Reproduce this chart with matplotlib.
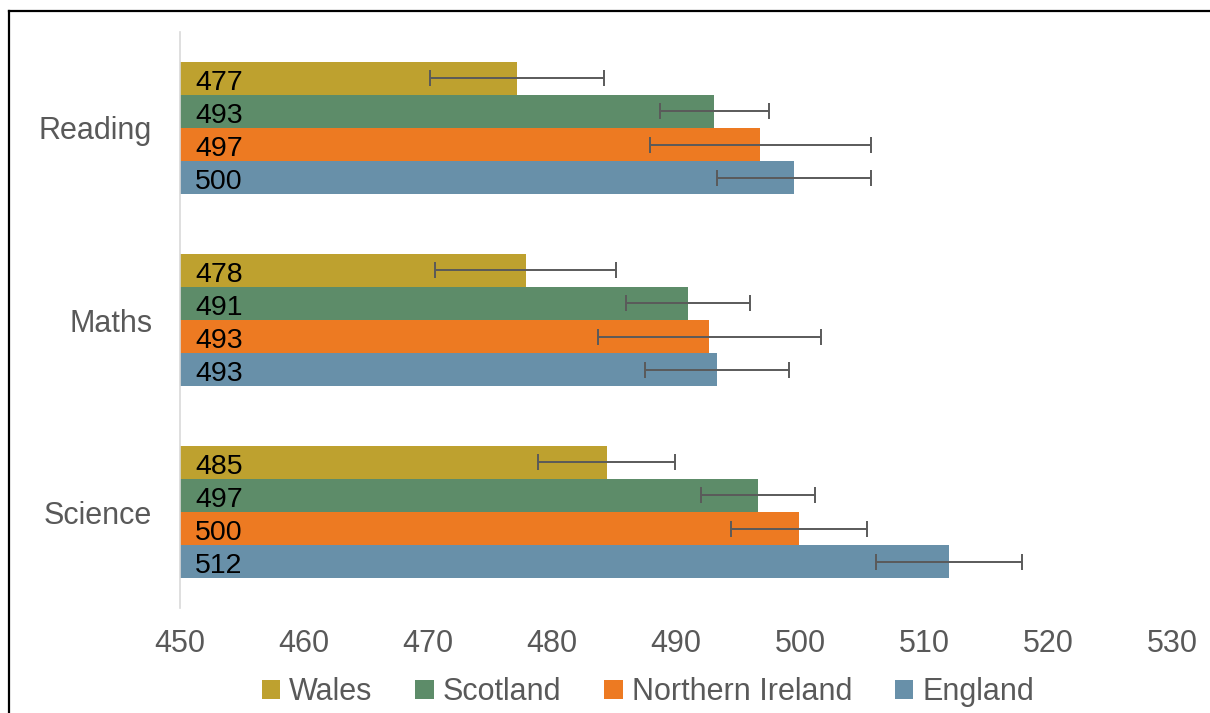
import numpy as np
import matplotlib
matplotlib.use("Agg")
import matplotlib.pyplot as plt
from matplotlib.lines import Line2D

# PISA mean scores (bar lengths) and 95% CI half-widths
subjects = ["Reading", "Maths", "Science"]
countries = ["Wales", "Scotland", "Northern Ireland", "England"]
colours = ["#BEA12F", "#5D8C69", "#ED7A22", "#6890A9"]

wales = [477.2, 477.9, 484.4]
scotland = [493.1, 491.0, 496.6]
n_ireland = [496.8, 492.7, 499.9]
england = [499.5, 493.3, 512.0]

wales_err = [7.0, 7.3, 5.5]
scotland_err = [4.4, 5.0, 4.6]
n_ireland_err = [8.9, 9.0, 5.5]
england_err = [6.2, 5.8, 5.9]

# labels as published
wales_lbl = [477, 478, 485]
scotland_lbl = [493, 491, 497]
n_ireland_lbl = [497, 493, 500]
england_lbl = [500, 493, 512]

values = [wales, scotland, n_ireland, england]
errors = [wales_err, scotland_err, n_ireland_err, england_err]
labels = [wales_lbl, scotland_lbl, n_ireland_lbl, england_lbl]

plt.rcParams['font.family'] = ['Liberation Sans', 'DejaVu Sans']

fig = plt.figure(figsize=(12.1, 7.13), dpi=100)
ax = fig.add_axes([180/1210, 1 - 608/713, (1172 - 180)/1210, (608 - 32)/713])

xmin = 450
y = np.arange(len(subjects))
h = 0.172
for i, (vals, errs, lbls) in enumerate(zip(values, errors, labels)):
    pos = y + (i - 1.5) * h
    ax.barh(pos, np.array(vals) - xmin, left=xmin, height=h,
            color=colours[i], label=countries[i])
    ax.errorbar(vals, pos, xerr=errs, fmt='none', ecolor='#5a5a5a',
                elinewidth=1.4, capsize=5.5, capthick=1.4)
    for p, l in zip(pos, lbls):
        ax.annotate(str(l), xy=(xmin, p), xytext=(11, -1), textcoords='offset points',
                    ha='left', va='center_baseline', fontsize=20.5, color='black')

ax.set_xlim(450, 530)
ax.set_ylim(2.5, -0.5)
ax.set_xticks(np.arange(450, 531, 10))
ax.set_yticks(y)
ax.set_yticklabels(subjects)
ax.tick_params(axis='both', length=0, labelsize=22, labelcolor='#595959')
ax.tick_params(axis='y', pad=20)
ax.tick_params(axis='x', pad=15)
for s in ['top', 'right', 'bottom']:
    ax.spines[s].set_visible(False)
ax.spines['left'].set_color('#d9d9d9')
ax.spines['left'].set_linewidth(1.2)

leg = fig.legend(loc='center', bbox_to_anchor=(648/1210, 1 - 692/713), ncol=4,
                 frameon=False, fontsize=22, handlelength=0.6, handleheight=0.6,
                 handletextpad=0.3, columnspacing=1.4, labelcolor='#595959')

# outer frame (top and left edges visible)
fig.add_artist(Line2D([9/1210, 9/1210], [0, 1 - 11/713], transform=fig.transFigure,
                      color='black', lw=1.6))
fig.add_artist(Line2D([9/1210, 1], [1 - 11/713, 1 - 11/713], transform=fig.transFigure,
                      color='black', lw=1.6))

fig.savefig("out.png", dpi=100)
